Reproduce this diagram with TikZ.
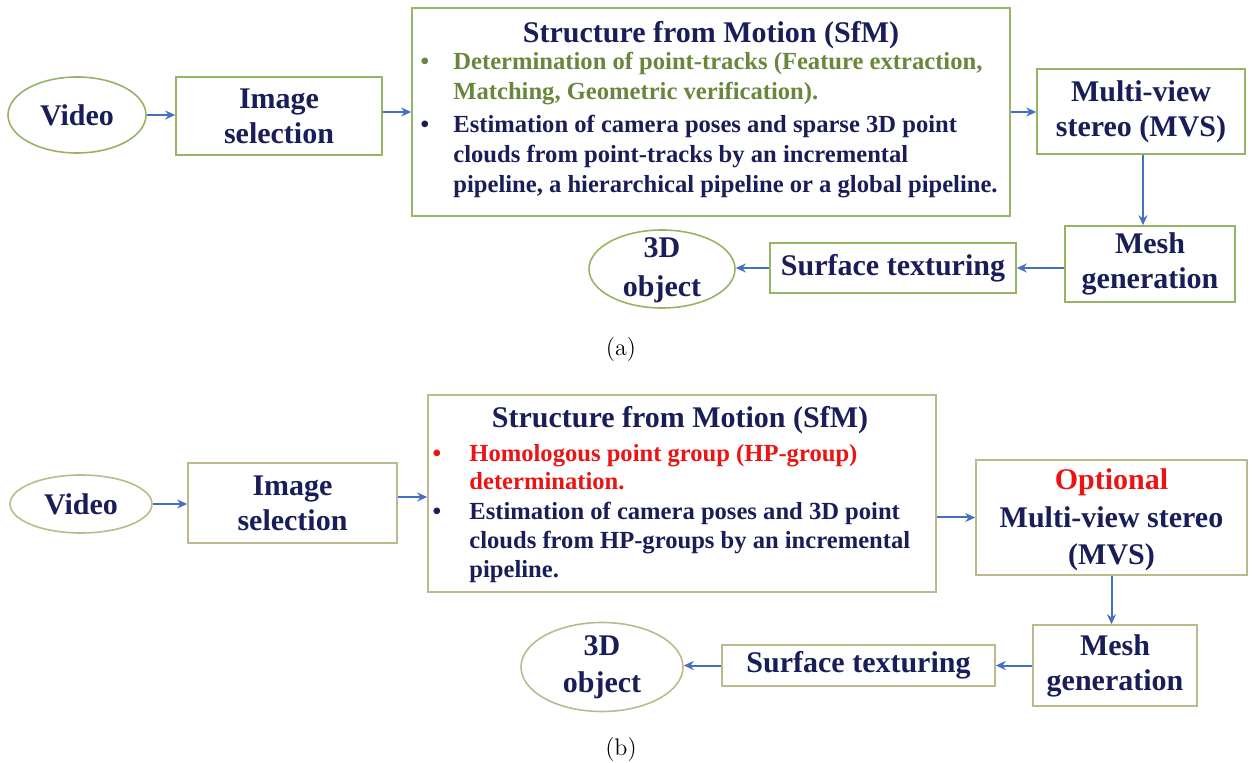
\documentclass[tikz,border=0pt]{standalone}
\usepackage{fontspec}
\newfontfamily\tnr{Liberation Serif}
\usetikzlibrary{arrows.meta,shapes.geometric}
\definecolor{navy}{RGB}{26,30,88}
\definecolor{olivetext}{RGB}{105,135,60}
\definecolor{redtext}{RGB}{235,20,20}
\definecolor{bordA}{RGB}{150,180,100}
\definecolor{bordB}{RGB}{190,185,140}
\definecolor{arrblue}{RGB}{70,110,195}
\begin{document}
\begin{tikzpicture}[x=0.5pt,y=-0.5pt,
  lab/.style={font=\tnr\bfseries\fontsize{15}{17.5}\selectfont, text=navy, align=center},
  boxA/.style={lab, draw=bordA, line width=0.8pt, inner sep=0pt},
  boxB/.style={lab, draw=bordB, line width=0.8pt, inner sep=0pt},
  ellA/.style={lab, ellipse, draw=bordA, line width=0.8pt, inner sep=0pt},
  ellB/.style={lab, ellipse, draw=bordB, line width=0.8pt, inner sep=0pt},
  ttl/.style={font=\tnr\bfseries\fontsize{15}{16.5}\selectfont, text=navy, anchor=base, inner sep=0pt},
  body/.style={font=\tnr\bfseries\fontsize{12.3}{14}\selectfont, text=navy, anchor=base west, inner sep=0pt},
  bul/.style={font=\tnr\bfseries\fontsize{12.3}{14}\selectfont, text=navy, anchor=base, inner sep=0pt},
  arr/.style={draw=arrblue, line width=1pt, -{Stealth[length=5pt,width=4.5pt]}},
  captext/.style={font=\fontsize{12}{14}\selectfont, inner sep=0pt}
]
\useasboundingbox (0,0) rectangle (1257,763);

% ---------------- (a) ----------------
\node[ellA, minimum width=69pt, minimum height=38pt] (videoA) at (77,115) {Video};
\node[boxA, minimum width=103pt, minimum height=39pt] (imgA) at (279,116) {Image\\selection};
\node[boxA, minimum width=299pt, minimum height=104pt] (sfmA) at (711,112) {};
\node[ttl] (sfmAt) at (711,43) {Structure from Motion (SfM)};
\node[bul, text=olivetext] (sfmAb1) at (425,70) {•};
\node[body, text=olivetext] (sfmA1) at (453,70) {Determination of point-tracks (Feature extraction,};
\node[body, text=olivetext] (sfmA2) at (453,100) {Matching, Geometric verification).};
\node[bul] (sfmAb2) at (425,133) {•};
\node[body] (sfmA3) at (453,133) {Estimation of camera poses and sparse 3D point};
\node[body] (sfmA4) at (453,163) {clouds from point-tracks by an incremental};
\node[body] (sfmA5) at (453,193) {pipeline, a hierarchical pipeline or a global pipeline.};
\node[boxA, minimum width=104pt, minimum height=42.5pt] (mvsA) at (1141,111.5) {Multi-view\\stereo (MVS)};
\node[boxA, minimum width=85pt, minimum height=38pt] (meshA) at (1150,264) {Mesh\\generation};
\node[boxA, minimum width=123pt, minimum height=25pt] (surfA) at (893,268) {Surface texturing};
\node[ellA, minimum width=73pt, minimum height=39pt] (objA) at (662,269) {};
\node[lab] (objAt) at (662,270) {3D\\[2pt]object};
\node[captext] (capA) at (621,350) {(a)};

\draw[arr] (videoA.east) -- (videoA.east -| imgA.west);
\draw[arr] ([yshift=2pt]imgA.east) -- ([yshift=2pt]imgA.east -| sfmA.west);
\draw[arr] (sfmA.east) -- (sfmA.east -| mvsA.west);
\draw[arr] ([xshift=1pt]mvsA.south) -- ([xshift=1pt]mvsA.south |- meshA.north);
\draw[arr] (surfA.east -| meshA.west) -- (surfA.east);
\draw[arr] (surfA.west) -- (surfA.west -| objA.east);

% ---------------- (b) ----------------
\node[ellB, minimum width=71pt, minimum height=29pt] (videoB) at (81,504) {Video};
\node[boxB, minimum width=104.5pt, minimum height=40pt] (imgB) at (292.5,503) {Image\\selection};
\node[boxB, minimum width=254pt, minimum height=98.5pt] (sfmB) at (682,493.5) {};
\node[ttl] (sfmBt) at (680,428) {Structure from Motion (SfM)};
\node[bul, text=redtext] (sfmBb1) at (437,462) {•};
\node[body, text=redtext] (sfmB1) at (469,462) {Homologous point group (HP-group)};
\node[body, text=redtext] (sfmB2) at (469,490) {determination.};
\node[bul] (sfmBb2) at (437,520) {•};
\node[body] (sfmB3) at (469,520) {Estimation of camera poses and 3D point};
\node[body] (sfmB4) at (469,549) {clouds from HP-groups by an incremental};
\node[body] (sfmB5) at (469,578) {pipeline.};
\node[boxB, minimum width=135.5pt, minimum height=57.5pt] (mvsB) at (1111.5,517.5) {};
\node[lab] (mvsBt) at (1111.5,520) {\textcolor{redtext}{Optional}\\[1.2pt]Multi-view stereo\\[1.2pt](MVS)};
\node[boxB, minimum width=82pt, minimum height=40.5pt] (meshB) at (1115,665.5) {Mesh\\generation};
\node[boxB, minimum width=136.5pt, minimum height=20.5pt] (surfB) at (858.5,665.5) {Surface texturing};
\node[ellB, minimum width=81pt, minimum height=44.5pt] (objB) at (602,667) {};
\node[lab] (objBt) at (602,667) {3D\\[1pt]object};
\node[captext] (capB) at (621,750) {(b)};

\draw[arr] (videoB.east) -- (videoB.east -| imgB.west);
\draw[arr] ([yshift=3pt]imgB.east) -- ([yshift=3pt]imgB.east -| sfmB.west);
\draw[arr] (mvsB.west -| sfmB.east) -- (mvsB.west);
\draw[arr] (mvsB.south) -- (mvsB.south |- meshB.north);
\draw[arr] (meshB.west) -- (meshB.west -| surfB.east);
\draw[arr] (surfB.west) -- (surfB.west -| objB.east);
\end{tikzpicture}
\end{document}
